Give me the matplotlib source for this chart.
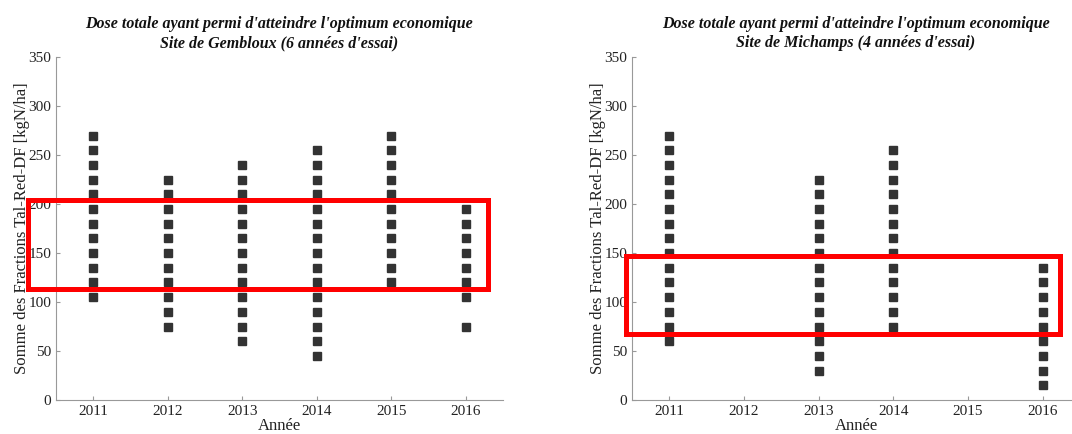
import numpy as np
import matplotlib
matplotlib.use('Agg')
import matplotlib.pyplot as plt
from matplotlib.patches import Rectangle

plt.rcParams['font.family'] = ['Liberation Serif', 'DejaVu Serif']

# Gembloux: doses (kgN/ha) per year
gem_years = [2011, 2012, 2013, 2014, 2015, 2016]
gem_doses = [
    [105, 120, 135, 150, 165, 180, 195, 210, 225, 240, 255, 270],
    [75, 90, 105, 120, 135, 150, 165, 180, 195, 210, 225],
    [60, 75, 90, 105, 120, 135, 150, 165, 180, 195, 210, 225, 240],
    [45, 60, 75, 90, 105, 120, 135, 150, 165, 180, 195, 210, 225, 240, 255],
    [120, 135, 150, 165, 180, 195, 210, 225, 240, 255, 270],
    [75, 105, 120, 135, 150, 165, 180, 195],
]
gem_box = (2010.12, 113, 2016.3, 204)

# Michamps
mic_years = [2011, 2013, 2014, 2016]
mic_doses = [
    [60, 75, 90, 105, 120, 135, 150, 165, 180, 195, 210, 225, 240, 255, 270],
    [30, 45, 60, 75, 90, 105, 120, 135, 150, 165, 180, 195, 210, 225],
    [75, 90, 105, 120, 135, 150, 165, 180, 195, 210, 225, 240, 255],
    [15, 30, 45, 60, 75, 90, 105, 120, 135],
]
mic_box = (2010.42, 67, 2016.23, 147)

titles = ["Dose totale ayant permi d'atteindre l'optimum economique\nSite de Gembloux (6 années d'essai)",
          "Dose totale ayant permi d'atteindre l'optimum economique\nSite de Michamps (4 années d'essai)"]

fig = plt.figure(figsize=(10.72, 4.34), dpi=100)
ax1 = fig.add_axes([0.0522, 0.0783, 0.417, 0.790])
ax2 = fig.add_axes([0.5896, 0.0783, 0.418, 0.790])

for ax, years, doses, box, title in [(ax1, gem_years, gem_doses, gem_box, titles[0]),
                                      (ax2, mic_years, mic_doses, mic_box, titles[1])]:
    for yr, d in zip(years, doses):
        ax.plot([yr] * len(d), d, ls='none', marker='s', ms=5.2, color='#333333')
    x0, y0, x1, y1 = box
    ax.add_patch(Rectangle((x0, y0), x1 - x0, y1 - y0, fill=False, ec='#ff0000',
                           lw=3.6, clip_on=False, zorder=5))
    ax.set_xlim(2010.5, 2016.5)
    ax.set_ylim(0, 350)
    ax.set_xticks(range(2011, 2017))
    ax.set_yticks(range(0, 351, 50))
    ax.spines['top'].set_visible(False)
    ax.spines['right'].set_visible(False)
    for s in ('left', 'bottom'):
        ax.spines[s].set_color('#999999')
    ax.tick_params(direction='in', length=3, color='#999999', labelsize=11, labelcolor='#222222')
    ax.set_xlabel('Année', fontsize=12, labelpad=0, color='#222222')
    ax.set_ylabel('Somme des Fractions Tal-Red-DF [kgN/ha]', fontsize=12, labelpad=-1, color='#222222')
    ax.set_title(title, fontsize=11.5, fontweight='bold', fontstyle='italic', pad=7,
                 linespacing=1.25, color='#111111')

fig.savefig('out.png', dpi=100)
